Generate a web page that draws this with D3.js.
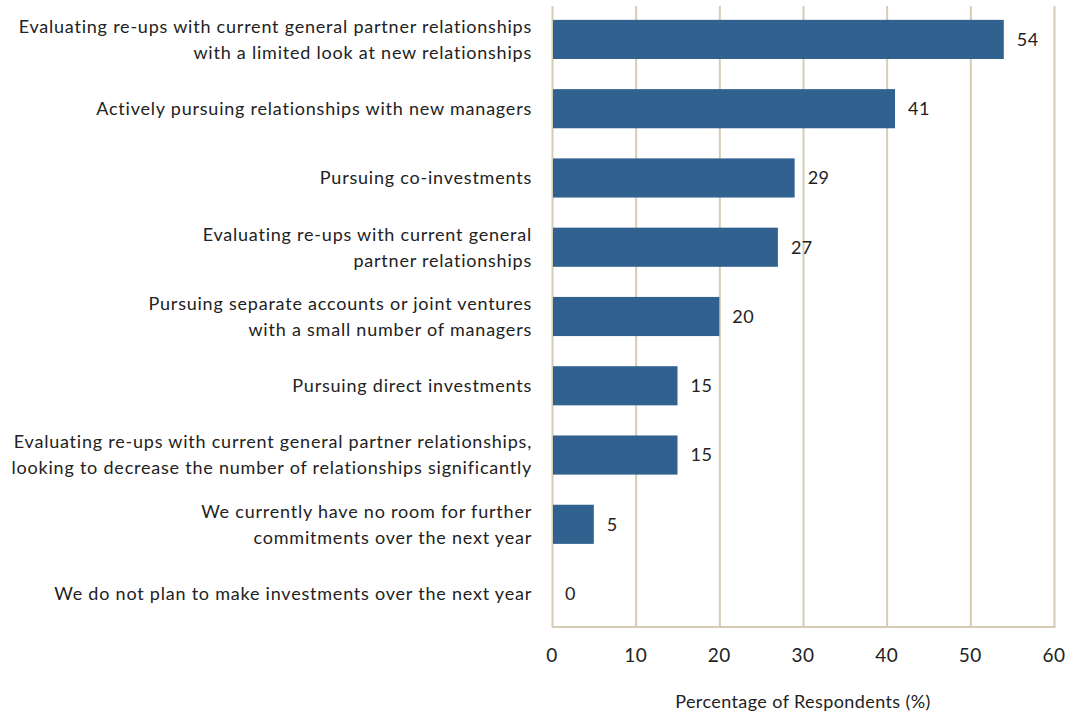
<!DOCTYPE html>
<html>
<head>
<meta charset="utf-8">
<script src="https://cdn.jsdelivr.net/npm/d3@7"></script>
<style>
body { margin: 0; background: #fff; }
text { font-family: Lato, "Open Sans", sans-serif; fill: #222; }
</style>
</head>
<body>
<div id="chart"></div>
<script>
// categories, top to bottom; each line break is a "|"
var categories = [
	"Evaluating re-ups with current general partner relationships|with a limited look at new relationships",
	"Actively pursuing relationships with new managers",
	"Pursuing co-investments",
	"Evaluating re-ups with current general|partner relationships",
	"Pursuing separate accounts or joint ventures|with a small number of managers",
	"Pursuing direct investments",
	"Evaluating re-ups with current general partner relationships,|looking to decrease the number of relationships significantly",
	"We currently have no room for further|commitments over the next year",
	"We do not plan to make investments over the next year"
];
var values = [54, 41, 29, 27, 20, 15, 15, 5, 0];
var ticks = [0, 10, 20, 30, 40, 50, 60];
var axisTitle = "Percentage of Respondents (%)";

var W = 1081, H = 715;
var mLeft = 552, mRight = 1054, mTop = 6, mBottom = 627;

var svg = d3.select("#chart").append("svg")
	.attr("width", W)
	.attr("height", H);

var x = d3.scaleLinear().domain([0, 60]).range([mLeft, mRight]);
var y = d3.scaleBand().domain(d3.range(categories.length)).range([mTop, mBottom]).paddingInner(0.435).paddingOuter(0.2);

// grid lines
svg.append("g").selectAll("line")
	.data(ticks)
	.enter().append("line")
	.attr("x1", function (d) { return x(d) + 0.5; })
	.attr("x2", function (d) { return x(d) + 0.5; })
	.attr("y1", mTop)
	.attr("y2", mBottom)
	.attr("stroke", "#d6ccb4")
	.attr("stroke-width", 2);

// bottom axis line
svg.append("line")
	.attr("x1", mLeft)
	.attr("x2", mRight + 1.5)
	.attr("y1", mBottom)
	.attr("y2", mBottom)
	.attr("stroke", "#d6ccb4")
	.attr("stroke-width", 2);

// bars
svg.append("g").selectAll("rect")
	.data(values)
	.enter().append("rect")
	.attr("x", x(0) + 1)
	.attr("y", function (d, i) { return y(i); })
	.attr("width", function (d) { return Math.max(0, x(d) - x(0) - 1); })
	.attr("height", y.bandwidth())
	.attr("fill", "#31618f");

// value labels
svg.append("g").selectAll("text")
	.data(values)
	.enter().append("text")
	.attr("x", function (d) { return x(d) + 13; })
	.attr("y", function (d, i) { return y(i) + y.bandwidth() / 2; })
	.attr("dy", "0.35em")
	.attr("font-size", 18)
	.attr("letter-spacing", 0.5)
	.text(function (d) { return d; });

// category labels
var cat = svg.append("g").selectAll("text")
	.data(categories)
	.enter().append("text")
	.attr("text-anchor", "end")
	.attr("font-size", 18)
	.attr("letter-spacing", 0.78)
	.attr("y", function (d, i) { return y(i) + y.bandwidth() / 2; });

cat.each(function (d) {
	var lines = d.split("|");
	var t = d3.select(this);
	var lh = 26;
	var start = -(lines.length - 1) * lh / 2;
	lines.forEach(function (l, k) {
		t.append("tspan")
			.attr("x", mLeft - 20)
			.attr("dy", k === 0 ? (start / 18 + 0.35) + "em" : lh + "px")
			.text(l);
	});
});

// tick labels
svg.append("g").selectAll("text")
	.data(ticks)
	.enter().append("text")
	.attr("x", function (d) { return x(d); })
	.attr("y", 662)
	.attr("text-anchor", "middle")
	.attr("font-size", 19)
	.attr("letter-spacing", 0.5)
	.text(function (d) { return d; });

svg.append("text")
	.attr("x", 803)
	.attr("y", 708)
	.attr("text-anchor", "middle")
	.attr("font-size", 18)
	.attr("letter-spacing", 0.4)
	.text(axisTitle);
</script>
</body>
</html>
